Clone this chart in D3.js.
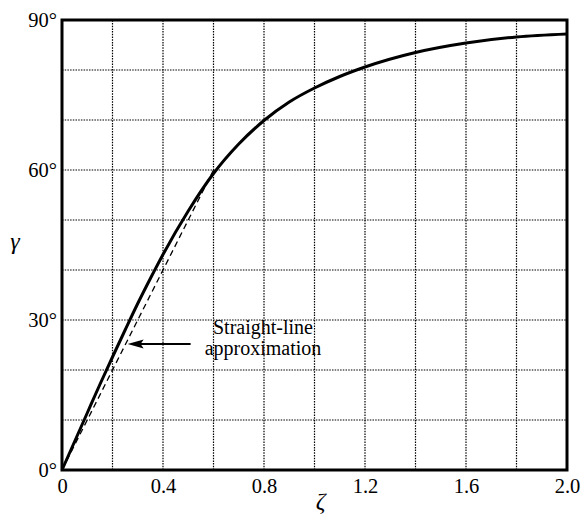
<!DOCTYPE html>
<html>
<head>
<meta charset="utf-8">
<script src="https://cdn.jsdelivr.net/npm/d3@7/dist/d3.min.js"></script>
<style>
  html, body { margin: 0; padding: 0; background: #fff; }
  svg { display: block; font-family: "Liberation Serif", "Times New Roman", serif; }
</style>
</head>
<body>
<svg id="chart" width="584" height="517"></svg>
<script>
// ---- data ----
const zeta  = [0, 0.05, 0.1, 0.15, 0.2, 0.25, 0.3, 0.35, 0.4, 0.5, 0.6, 0.7, 0.8, 0.9, 1.0, 1.1, 1.2, 1.4, 1.6, 1.8, 2.0];
const gamma = [0, 5.7, 11.4, 17.1, 22.6, 28.0, 33.3, 38.3, 43.1, 51.8, 59.3, 65.2, 69.9, 73.6, 76.4, 78.7, 80.6, 83.5, 85.4, 86.6, 87.2];
const approxZeta  = [0, 0.6];
const approxGamma = [0, 60];
const xTickValues = [0, 0.4, 0.8, 1.2, 1.6, 2.0];
const xTickLabels = ["0", "0.4", "0.8", "1.2", "1.6", "2.0"];
const yTickValues = [0, 30, 60, 90];
const yTickLabels = ["0°", "30°", "60°", "90°"];
const xGrid = [0.2, 0.4, 0.6, 0.8, 1.0, 1.2, 1.4, 1.6, 1.8];
const yGrid = [10, 20, 30, 40, 50, 60, 70, 80];
const annotationLines = ["Straight-line", "approximation"];
const arrowGammaAt = 25.2;   // where the arrow points (on the dashed line)

// ---- layout ----
const svg = d3.select("#chart");
const m = { left: 62, right: 17, top: 20, bottom: 47 };
const W = 584, H = 517;
const x = d3.scaleLinear().domain([0, 2.0]).range([m.left, W - m.right]);
const y = d3.scaleLinear().domain([0, 90]).range([H - m.bottom, m.top]);

// grid
const g = svg.append("g");
g.selectAll(".vg").data(xGrid).enter().append("line")
  .attr("x1", d => x(d)).attr("x2", d => x(d))
  .attr("y1", y(0)).attr("y2", y(90))
  .attr("stroke", "#000").attr("stroke-width", 1.2).attr("stroke-dasharray", "1.5,1.2");
g.selectAll(".hg").data(yGrid).enter().append("line")
  .attr("y1", d => y(d)).attr("y2", d => y(d))
  .attr("x1", x(0)).attr("x2", x(2.0))
  .attr("stroke", "#000").attr("stroke-width", 1.2).attr("stroke-dasharray", "1.5,1.2");

// axes (labels only, frame drawn separately)
const xAxis = d3.axisBottom(x).tickValues(xTickValues)
  .tickFormat((d, i) => xTickLabels[i]).tickSize(0).tickPadding(8);
const yAxis = d3.axisLeft(y).tickValues(yTickValues)
  .tickFormat((d, i) => yTickLabels[i]).tickSize(0).tickPadding(5);
const gx = svg.append("g").attr("transform", `translate(0,${y(0)})`).call(xAxis);
const gy = svg.append("g").attr("transform", `translate(${x(0)},0)`).call(yAxis);
[gx, gy].forEach(a => {
  a.select(".domain").remove();
  a.selectAll("text").attr("font-family", "Liberation Serif, serif")
    .attr("font-size", 20.5).attr("fill", "#000");
});
gy.selectAll("text").attr("dy", "0.33em");
gx.selectAll("text").attr("dy", "0.75em");

// straight-line approximation (dashed)
const line = d3.line().x(d => x(d[0])).y(d => y(d[1]));
svg.append("path")
  .datum(approxZeta.map((z, i) => [z, approxGamma[i]]))
  .attr("d", line).attr("fill", "none")
  .attr("stroke", "#000").attr("stroke-width", 1.3).attr("stroke-dasharray", "6,4");

// main curve
svg.append("path")
  .datum(zeta.map((z, i) => [z, gamma[i]]))
  .attr("d", d3.line().curve(d3.curveMonotoneX).x(d => x(d[0])).y(d => y(d[1])))
  .attr("fill", "none").attr("stroke", "#000").attr("stroke-width", 3);

// frame
svg.append("rect")
  .attr("x", x(0)).attr("y", y(90))
  .attr("width", x(2.0) - x(0)).attr("height", y(0) - y(90))
  .attr("fill", "none").attr("stroke", "#000").attr("stroke-width", 3);

// annotation
const tipX = x(arrowGammaAt / 100) + 2;
const tipY = y(arrowGammaAt);
svg.append("line")
  .attr("x1", tipX + 12).attr("x2", tipX + 63)
  .attr("y1", tipY).attr("y2", tipY)
  .attr("stroke", "#000").attr("stroke-width", 2);
svg.append("path")
  .attr("d", `M${tipX},${tipY} L${tipX + 16},${tipY - 4.5} L${tipX + 13},${tipY} L${tipX + 16},${tipY + 4.5} Z`)
  .attr("fill", "#000");
svg.selectAll(".ann").data(annotationLines).enter().append("text")
  .attr("x", 263).attr("y", (d, i) => 334 + i * 20.5)
  .attr("text-anchor", "middle")
  .attr("font-family", "Liberation Serif, serif").attr("font-size", 20)
  .text(d => d);

// axis titles
svg.append("text").attr("x", (x(0) + x(2.0)) / 2 + 6).attr("y", 509)
  .attr("text-anchor", "middle").attr("font-style", "italic")
  .attr("font-family", "Liberation Serif, serif").attr("font-size", 24).text("ζ");
svg.append("text").attr("x", 15).attr("y", 249)
  .attr("text-anchor", "middle").attr("font-style", "italic")
  .attr("font-family", "Liberation Serif, serif").attr("font-size", 24).text("γ");
</script>
</body>
</html>
